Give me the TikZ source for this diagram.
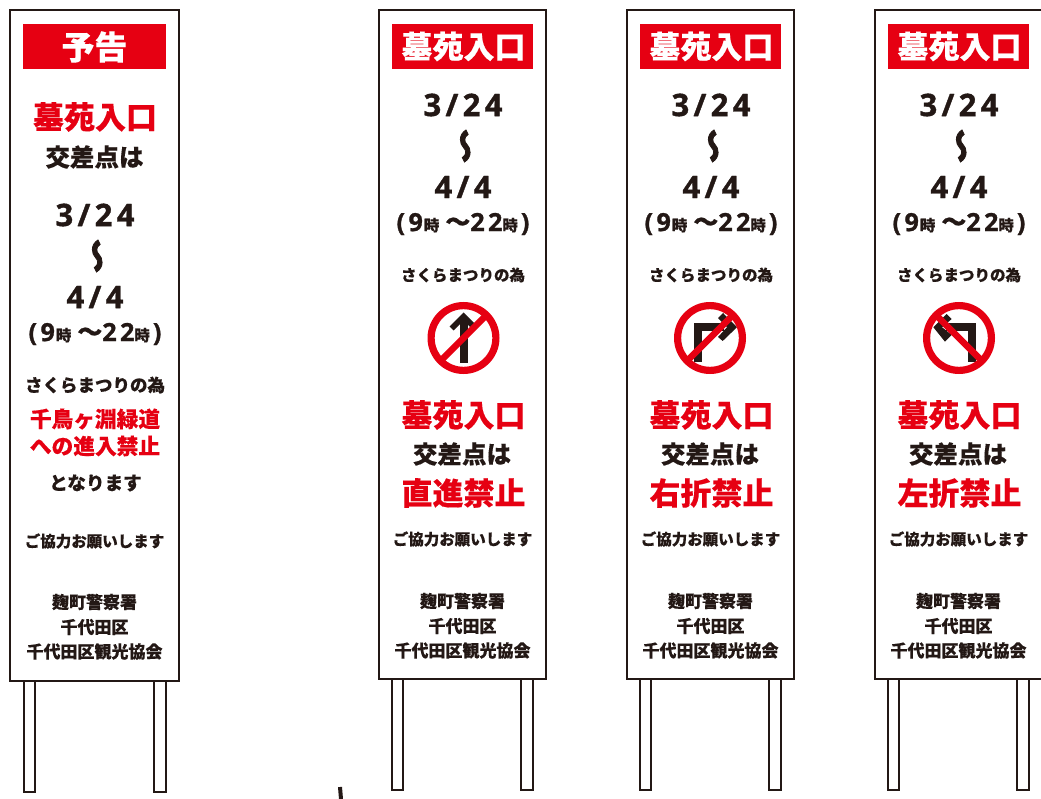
\documentclass[tikz,border=0pt]{standalone}
\usepackage{fontspec}
\usepackage{graphicx}
\setmainfont{Noto Sans CJK JP}[BoldFeatures={FakeBold=0.25}]
\newfontfamily\numfont[LetterSpace=14,BoldFeatures={FakeBold=1.2}]{Open Sans}
\newfontfamily\wavefont[BoldFeatures={FakeBold=2.5}]{Noto Sans CJK JP}
\definecolor{ink}{HTML}{231815}
\definecolor{signred}{HTML}{E60012}
\newcommand\fsz[1]{\fontsize{#1}{#1}\selectfont\bfseries}
\tikzset{
  txt/.style={inner sep=0pt,text=ink,anchor=center},
  red/.style={txt,text=signred},
  frame/.style={draw=ink,line width=2pt,fill=white},
  post/.style={draw=ink,line width=1.6pt,fill=white},
  ring/.style={draw=signred,line width=7.2pt},
  slash/.style={draw=signred,line width=6.5pt},
  arrowbody/.style={draw=ink,line width=8pt,miter limit=10},
}
\newcommand\dates[2]{%
  \node[txt,font=\numfont\fsz{31}] (d1) at (#1,#2) {3/24};
  \node[txt,font=\wavefont\fsz{30}] (wave) at (#1-1,#2+41) {\rotatebox{90}{\scalebox{1.15}[-1]{〜}}};
  \node[txt,font=\numfont\fsz{31}] (d2) at (#1,#2+82) {4/4};
  \node[txt,font=\fsz{25}] (hrs) at (#1,#2+119) {{\numfont(9}\kern1pt{\fsz{15.5}時}\kern6pt〜{\numfont 22}\kern0pt{\fsz{15.5}時}\kern3pt{\numfont)}};
}
\newcommand\footerblock[2]{%
  \node[txt,font=\fsz{17}] (o1) at (#1,#2) {麹町警察署};
  \node[txt,font=\fsz{17}] (o2) at (#1,#2+25) {千代田区};
  \node[txt,font=\fsz{17}] (o3) at (#1,#2+49.5) {千代田区観光協会};
}
\newcommand\mainsign[4]{%
\begin{scope}[shift={(#2,0)},name prefix=#1-]
  \draw[post] (392,670) rectangle (403,790);
  \draw[post] (521,670) rectangle (533,790);
  \draw[frame] (379,10) rectangle (546,679);
  \fill[signred] (392,24) rectangle (533,69);
  \node[txt,text=white,font=\fsz{31}] (head) at (463.5,46.5) {墓苑入口};
  \dates{463}{105}
  \node[txt,font=\fsz{15.5}] (s1) at (463,275) {さくらまつりの為};
  #3
  \node[red,font=\fsz{31}] (w1) at (463.5,415) {墓苑入口};
  \node[txt,font=\fsz{24.5}] (w2) at (462,454) {交差点は};
  \node[red,font=\fsz{31}] (w3) at (463.5,493) {#4};
  \node[txt,font=\fsz{15.5}] (w4) at (462.5,539) {ご協力お願いします};
  \footerblock{462.5}{601}
\end{scope}}
\begin{document}
\begin{tikzpicture}[x=1pt,y=-1pt]
\useasboundingbox (0,0) rectangle (1041,799);
\fill[white] (0,0) rectangle (1041,799);
\begin{scope}[name prefix=a-]
  \draw[post] (24,670) rectangle (35,792);
  \draw[post] (154,670) rectangle (166,792);
  \draw[frame] (10,10) rectangle (179,681);
  \fill[signred] (23,24) rectangle (166,69);
  \node[txt,text=white,font=\fsz{33}] (head) at (94.5,47) {予告};
  \node[red,font=\fsz{31}] (w1) at (95,117) {墓苑入口};
  \node[txt,font=\fsz{24.5}] (w2) at (94.5,157) {交差点は};
  \dates{95}{215}
  \node[txt,font=\fsz{17.5}] (s1) at (95,385) {さくらまつりの為};
  \node[red,font=\fsz{21.7}] (r1) at (95,419) {千鳥ヶ淵緑道};
  \node[red,font=\fsz{21.7}] (r2) at (95,446) {への進入禁止};
  \node[txt,font=\fsz{18.6}] (w3) at (95.5,483) {となります};
  \node[txt,font=\fsz{15.5}] (w4) at (94.5,541) {ご協力お願いします};
  \footerblock{94.5}{602}
\end{scope}
\mainsign{b}{0}{%
  \draw[draw=ink,line width=7.7pt] (463.7,363) -- (463.7,320);
  \fill[ink] (463.7,312.5) -- (477.7,326.5) -- (473.7,330.5) -- (463.7,320.5) -- (453.7,330.5) -- (449.7,326.5) -- cycle;
  \draw[ring] (463.5,338) circle (32.4);
  \draw[slash] (441,360.5) -- (486,315.5);
}{直進禁止}
\mainsign{c}{248}{%
  \draw[arrowbody] (450.3,362) -- (450.3,327.5) -- (476,327.5);
  \fill[ink] (475,313) -- (489,327.2) -- (474.7,341) -- (470,337) -- (479,327.2) -- (470,318) -- cycle;
  \draw[ring] (462,338) circle (32.4);
  \draw[slash] (439.5,360.5) -- (484.5,315.5);
}{右折禁止}
\mainsign{e}{496}{%
  \draw[arrowbody] (476,362) -- (476,327.5) -- (450,327.5);
  \fill[ink] (450.7,314) -- (437.3,327.2) -- (449,341.7) -- (455.7,335) -- (446,327.2) -- (455.7,319) -- cycle;
  \draw[ring] (463,338) circle (32.4);
  \draw[slash] (440.5,315.5) -- (485.5,360.5);
}{左折禁止}
\draw[ink,line width=4pt] (340,787) -- (341,799);
\end{tikzpicture}
\end{document}
